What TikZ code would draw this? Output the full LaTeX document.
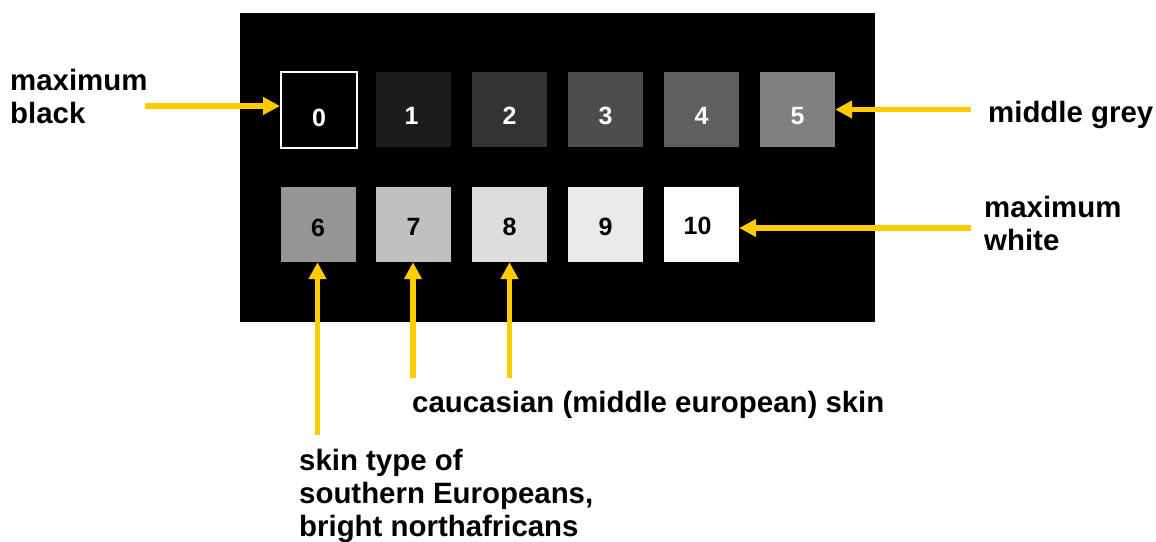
\documentclass[tikz,border=0pt]{standalone}
\usepackage{fontspec}
\setmainfont{Liberation Sans}
\usetikzlibrary{arrows.meta}
\definecolor{arrowyellow}{HTML}{FFCC00}
\definecolor{g1}{HTML}{1C1C1C}
\definecolor{g2}{HTML}{333333}
\definecolor{g3}{HTML}{4D4D4D}
\definecolor{g4}{HTML}{5F5F5F}
\definecolor{g5}{HTML}{808080}
\definecolor{g6}{HTML}{969696}
\definecolor{g7}{HTML}{C0C0C0}
\definecolor{g8}{HTML}{DDDDDD}
\definecolor{g9}{HTML}{EAEAEA}
\tikzset{
  sq/.style={minimum width=75pt, minimum height=75pt, inner sep=0pt, draw=none},
  num/.style={font=\fontsize{25}{28}\selectfont\bfseries, inner sep=0pt},
  lbl/.style={font=\fontsize{29.4}{33}\selectfont\bfseries, inner sep=0pt, align=left, anchor=base west},
  yarrow/.style={draw=arrowyellow, line width=5.5pt, -{Triangle[length=17pt, width=17pt]}},
}
\begin{document}
\begin{tikzpicture}[x=1pt,y=-1pt]
\useasboundingbox (0,0) rectangle (1156,541);
\fill[black] (240,13) rectangle (875,322);
% top row
\node[sq, minimum width=76pt, minimum height=76pt, draw=white, line width=2pt, fill=black] (s0) at (319,110) {};
\node[sq, fill=g1] (s1) at (413.5,109) {};
\node[sq, fill=g2] (s2) at (509.5,109) {};
\node[sq, fill=g3] (s3) at (605.5,109) {};
\node[sq, fill=g4] (s4) at (701.5,109) {};
\node[sq, fill=g5] (s5) at (797.5,109) {};
% bottom row
\node[sq, fill=g6] (s6) at (318,224.5) {};
\node[sq, fill=g7] (s7) at (413.5,224.5) {};
\node[sq, fill=g8] (s8) at (509.5,224.5) {};
\node[sq, fill=g9] (s9) at (605.5,224.5) {};
\node[sq, fill=white] (s10) at (701.5,224.5) {};
% numbers
\node[num, text=white] (n0) at ([yshift=-7.5pt]s0.center) {0};
\node[num, text=white] (n1) at ([xshift=-2pt,yshift=-7pt]s1.center) {1};
\node[num, text=white] (n2) at ([yshift=-7pt]s2.center) {2};
\node[num, text=white] (n3) at ([yshift=-7pt]s3.center) {3};
\node[num, text=white] (n4) at ([yshift=-7pt]s4.center) {4};
\node[num, text=white] (n5) at ([yshift=-7pt]s5.center) {5};
\node[num] (n6) at ([yshift=-3.5pt]s6.center) {6};
\node[num] (n7) at ([yshift=-2.5pt]s7.center) {7};
\node[num] (n8) at ([yshift=-2.5pt]s8.center) {8};
\node[num] (n9) at ([yshift=-2.5pt]s9.center) {9};
\node[num] (n10) at ([xshift=-4pt,yshift=-1.5pt]s10.center) {10};
% labels (base anchor = baseline of last line)
\node[lbl] (lblack) at (10,123) {maximum\\black};
\node[lbl] (lgrey) at (988,122) {middle grey};
\node[lbl] (lwhite) at (984,250) {maximum\\white};
\node[lbl] (lcauc) at (412,412) {caucasian (middle european) skin};
\node[lbl] (lsouth) at (299,536) {skin type of\\southern Europeans,\\bright northafricans};
% arrow starts
\coordinate (cL) at (145,106);
\coordinate (cM) at (971,109.5);
\coordinate (cW) at (971,228);
\coordinate (c6) at (317.5,435);
\coordinate (c7) at (413,378);
\coordinate (c8) at (509.5,378);
% arrows
\draw[yarrow] (cL) -- (cL -| s0.west);
\draw[yarrow] (cM) -- (cM -| s5.east);
\draw[yarrow] (cW) -- (cW -| s10.east);
\draw[yarrow] (c6) -- (c6 |- s6.south);
\draw[yarrow] (c7) -- (c7 |- s7.south);
\draw[yarrow] (c8) -- (c8 |- s8.south);
\end{tikzpicture}
\end{document}
